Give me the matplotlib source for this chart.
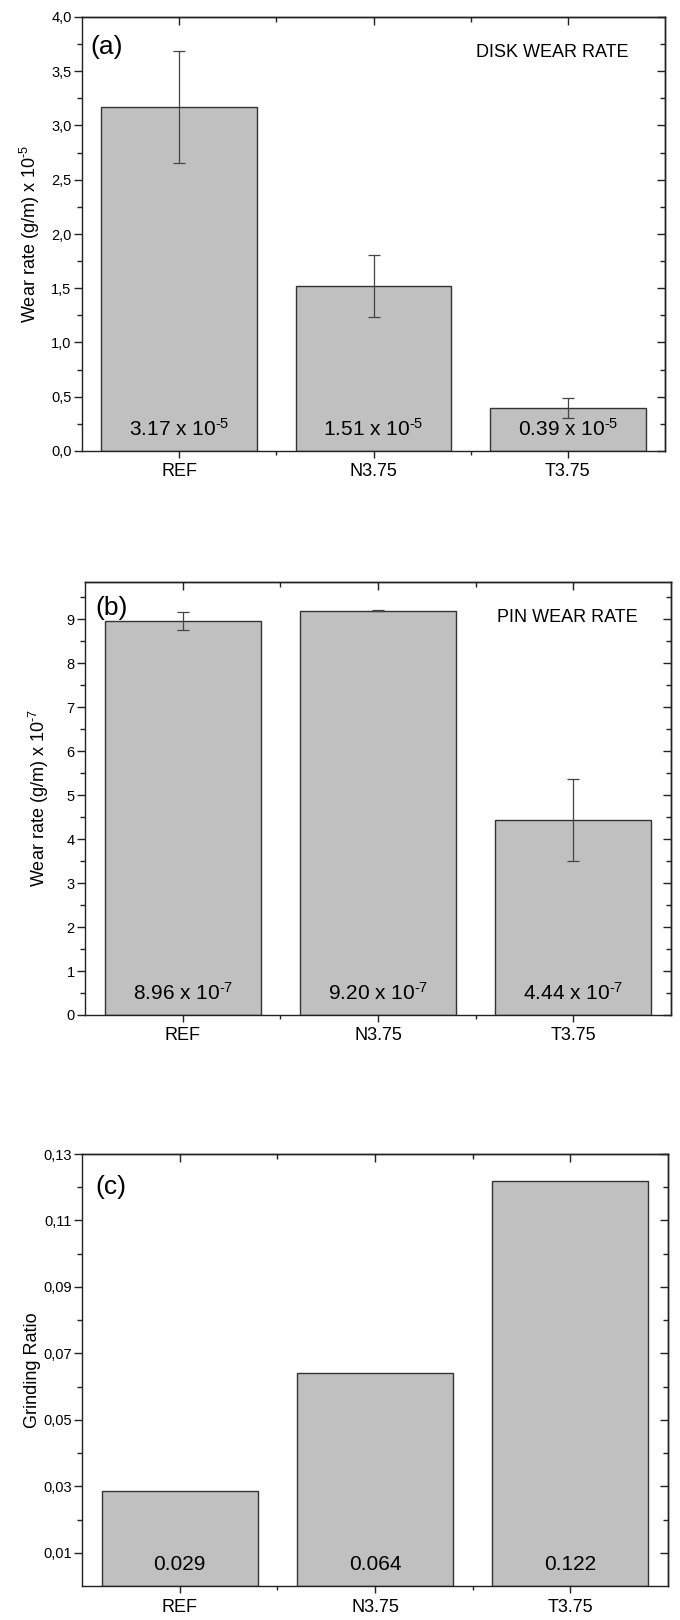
import matplotlib
matplotlib.use('Agg')
import matplotlib.pyplot as plt
from matplotlib.ticker import FixedLocator, FuncFormatter
import numpy as np

plt.rcParams['font.family'] = ['Liberation Sans', 'DejaVu Sans']
plt.rcParams['mathtext.fontset'] = 'custom'
plt.rcParams['mathtext.rm'] = 'Liberation Sans'
plt.rcParams['mathtext.it'] = 'Liberation Sans:italic'
plt.rcParams['mathtext.bf'] = 'Liberation Sans:bold'

# ---------------- data ----------------
categories = ['REF', 'N3.75', 'T3.75']

disk_wear = [3.17, 1.52, 0.40]
disk_err = [0.515, 0.285, 0.092]
disk_labels = [r'3.17 x 10$^{\text{-5}}$', r'1.51 x 10$^{\text{-5}}$', r'0.39 x 10$^{\text{-5}}$']

pin_wear = [8.96, 9.20, 4.44]
pin_err = [0.21, 0.02, 0.93]
pin_labels = [r'8.96 x 10$^{\text{-7}}$', r'9.20 x 10$^{\text{-7}}$', r'4.44 x 10$^{\text{-7}}$']

grinding_ratio = [0.0285, 0.064, 0.122]
grinding_labels = ['0.029', '0.064', '0.122']

W, H = 680, 1620
fig = plt.figure(figsize=(W / 100, H / 100), dpi=100)


def make_ax(left, right, top, bottom):
    ax = fig.add_axes([left / W, 1 - bottom / H, (right - left) / W, (bottom - top) / H])
    ax._ycenter = 1 - (top + bottom) / 2 / H
    return ax


BAR_FC = '#c0c0c0'
BAR_EC = '#333333'


def style(ax, ylim, major, minor, fmt, ylab, ylab_x, panel, panel_off, title=None, title_off=None):
    x = np.arange(1, len(categories) + 1)
    ax.set_xlim(0.5, 3.5)
    ax.set_ylim(*ylim)
    ax.yaxis.set_major_locator(FixedLocator(major))
    ax.yaxis.set_minor_locator(FixedLocator(minor))
    ax.yaxis.set_major_formatter(FuncFormatter(fmt))
    ax.set_xticks(x)
    ax.set_xticklabels(categories, fontsize=13)
    ax.xaxis.set_minor_locator(FixedLocator([1.5, 2.5]))
    ax.tick_params(axis='both', which='both', direction='out', top=False, right=False, width=1.0, color='#222222')
    ax.tick_params(axis='y', which='major', length=5.5, pad=2, labelsize=10.5)
    ax.tick_params(axis='y', which='minor', length=3.5)
    ax.tick_params(axis='x', which='major', length=5, pad=4)
    ax.tick_params(axis='x', which='minor', length=3)
    for s in ax.spines.values():
        s.set_linewidth(1.0)
        s.set_color('#222222')
    # mirrored inward ticks
    sy = ax.secondary_yaxis('right')
    sy.yaxis.set_major_locator(FixedLocator(major))
    sy.yaxis.set_minor_locator(FixedLocator(minor))
    sy.tick_params(which='both', direction='in', labelright=False, width=1.0, color='#222222')
    sy.tick_params(which='major', length=5.5)
    sy.tick_params(which='minor', length=3.5)
    sy.spines['right'].set_linewidth(1.0)
    sx = ax.secondary_xaxis('top')
    sx.set_xticks(x)
    sx.xaxis.set_minor_locator(FixedLocator([1.5, 2.5]))
    sx.tick_params(which='both', direction='in', labeltop=False, width=1.0, color='#222222')
    sx.tick_params(which='major', length=5.5)
    sx.tick_params(which='minor', length=3.5)
    sx.spines['top'].set_linewidth(1.0)

    ax.set_ylabel(ylab, fontsize=13)
    ax.yaxis.set_label_coords(ylab_x / W, ax._ycenter, transform=fig.transFigure)
    ax.annotate(panel, xy=(0, 1), xycoords='axes fraction', xytext=panel_off,
                textcoords='offset pixels', fontsize=19, ha='left', va='center')
    if title:
        ax.annotate(title, xy=(1, 1), xycoords='axes fraction', xytext=title_off,
                    textcoords='offset pixels', fontsize=13, ha='right', va='center')


def bar_labels(ax, labels):
    for i, lab in enumerate(labels):
        ax.annotate(lab, xy=(i + 1, 0), xycoords=('data', 'axes fraction'), xytext=(0, 22),
                    textcoords='offset pixels', fontsize=15, ha='center', va='center')


x = np.arange(1, len(categories) + 1)
errkw = dict(ecolor='#444444', elinewidth=0.9, capsize=4, capthick=0.9)

# ---- panel (a)
ax1 = make_ax(82, 665, 17, 451)
ax1.bar(x, disk_wear, width=0.8, color=BAR_FC, edgecolor=BAR_EC, linewidth=1.0,
        yerr=disk_err, error_kw=errkw, zorder=2)
style(ax1, (0, 4.0), np.arange(0, 4.01, 0.5), np.arange(0.25, 4.0, 0.5),
      lambda v, p: f'{v:.1f}'.replace('.', ','),
      r'Wear rate (g/m) x 10$^{\text{-5}}$', 42, '(a)', (8, -30),
      'DISK WEAR RATE', (-37, -36))
bar_labels(ax1, disk_labels)

# ---- panel (b)
ax2 = make_ax(85, 671, 582, 1015)
ax2.bar(x, pin_wear, width=0.8, color=BAR_FC, edgecolor=BAR_EC, linewidth=1.0,
        yerr=pin_err, error_kw=errkw, zorder=2)
style(ax2, (0, 9.85), np.arange(0, 9.1, 1), np.arange(0.5, 9.8, 1.0),
      lambda v, p: f'{v:.0f}',
      r'Wear rate (g/m) x 10$^{\text{-7}}$', 51, '(b)', (10, -26),
      'PIN WEAR RATE', (-33, -35))
bar_labels(ax2, pin_labels)

# ---- panel (c)
ax3 = make_ax(82, 668, 1154, 1586)
ax3.bar(x, grinding_ratio, width=0.8, color=BAR_FC, edgecolor=BAR_EC, linewidth=1.0, zorder=2)
style(ax3, (0, 0.13), np.arange(0.01, 0.131, 0.02), np.arange(0.02, 0.121, 0.02),
      lambda v, p: f'{v:.2f}'.replace('.', ','),
      'Grinding Ratio', 41, '(c)', (13, -33))
bar_labels(ax3, grinding_labels)

fig.savefig('out.png', dpi=100)
